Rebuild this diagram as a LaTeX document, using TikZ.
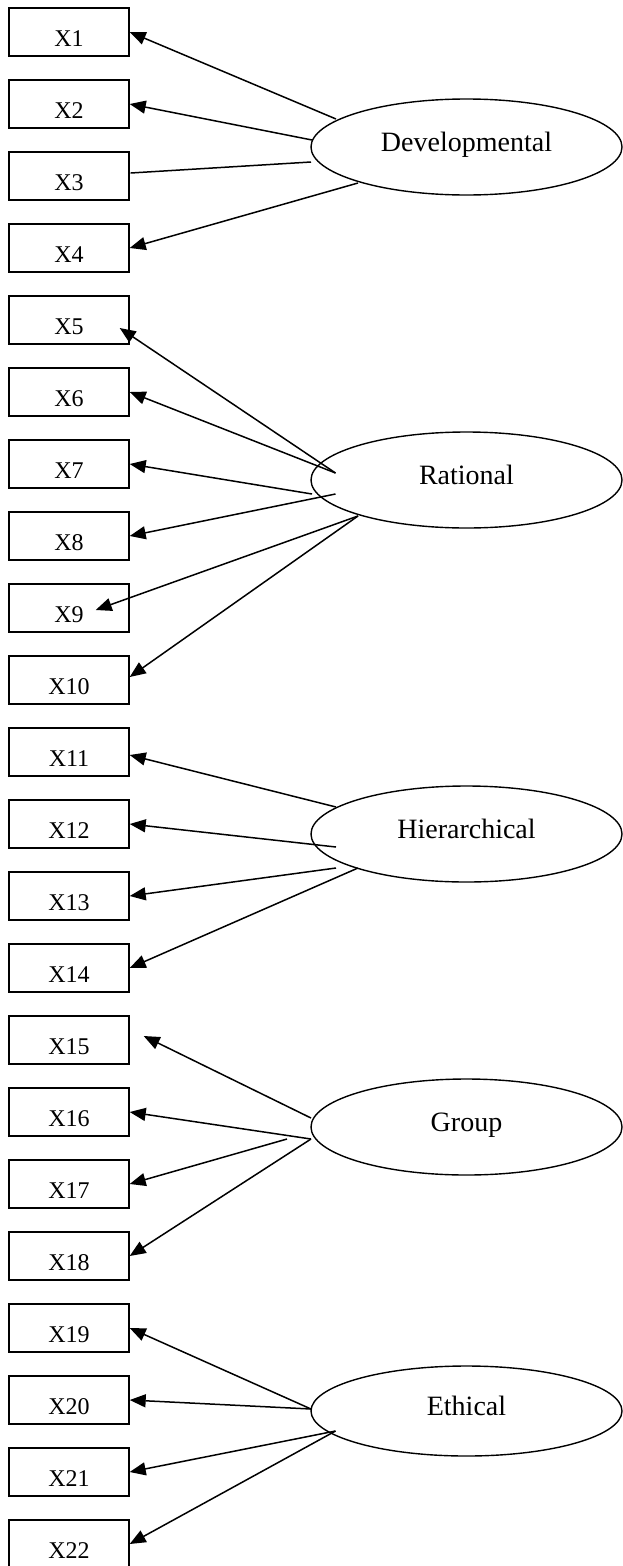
\documentclass[tikz,border=0pt]{standalone}
\usepackage{fontspec}
\setmainfont{Liberation Serif}
\usetikzlibrary{arrows.meta,calc,shapes.geometric}
\begin{document}
\begin{tikzpicture}[x=1pt,y=-1pt,
  obsbox/.style={draw,line width=1.4pt,rectangle,inner sep=0pt,minimum width=120pt,minimum height=48pt,
    text height=38pt,text depth=10pt,font=\fontsize{24}{27}\selectfont},
  latent/.style={draw,line width=1.4pt,ellipse,inner sep=0pt,minimum width=311pt,minimum height=96pt,
    text height=18pt,text depth=10pt,font=\fontsize{28}{31}\selectfont},
  arr/.style={line width=1.5pt,-{Triangle[length=16pt,width=13pt]}},
  plain/.style={line width=1.5pt}]
\useasboundingbox (0,0) rectangle (623,1566);
\foreach \i in {1,...,22}{
  \node[obsbox] (x\i) at (69,{32+72*(\i-1)}) {X\i};
}
\node[latent] (dev) at (466.5,147) {Developmental};
\node[latent] (rat) at (466.5,480) {Rational};
\node[latent] (hie) at (466.5,834) {Hierarchical};
\node[latent] (grp) at (466.5,1127) {Group};
\node[latent,minimum height=90pt] (eth) at (466.5,1411) {Ethical};
% Developmental
\draw[arr] ($(dev)+(-130.5,-28)$) -- (x1.east);
\draw[arr] ($(dev)+(-154.5,-7)$) -- (x2.east);
\draw[plain] ($(dev)+(-155.5,15)$) -- ($(x3.east)+(1,-3)$);
\draw[arr] ($(dev)+(-108.5,36)$) -- (x4.east);
% Rational
\draw[arr] ($(rat)+(-131,-7)$) -- ($(x5.east)+(-10,8)$);
\draw[arr] ($(rat)+(-131,-7)$) -- (x6.east);
\draw[arr] ($(rat)+(-154.5,14)$) -- (x7.east);
\draw[arr] ($(rat)+(-131,14)$) -- (x8.east);
\draw[arr] ($(rat)+(-108.5,36)$) -- ($(x9.east)+(-34,2)$);
\draw[arr] ($(rat)+(-108.5,36)$) -- ($(x10.east)+(0,-3)$);
% Hierarchical
\draw[arr] ($(hie)+(-130.5,-27)$) -- ($(x11.east)+(0,3)$);
\draw[arr] ($(hie)+(-130.5,13)$) -- (x12.east);
\draw[arr] ($(hie)+(-130.5,34)$) -- (x13.east);
\draw[arr] ($(hie)+(-108.5,34)$) -- (x14.east);
% Group
\draw[arr] ($(grp)+(-155.5,-9)$) -- ($(x15.east)+(14,-4)$);
\draw[arr] ($(grp)+(-155.5,12)$) -- (x16.east);
\draw[arr] ($(grp)+(-179.5,12)$) -- (x17.east);
\draw[arr] ($(grp)+(-155.5,12)$) -- (x18.east);
% Ethical
\draw[arr] ($(eth)+(-155.5,-2)$) -- (x19.east);
\draw[arr] ($(eth)+(-155.5,-2)$) -- (x20.east);
\draw[arr] ($(eth)+(-131,20)$) -- (x21.east);
\draw[arr] ($(eth)+(-131,20)$) -- (x22.east);
\end{tikzpicture}
\end{document}
